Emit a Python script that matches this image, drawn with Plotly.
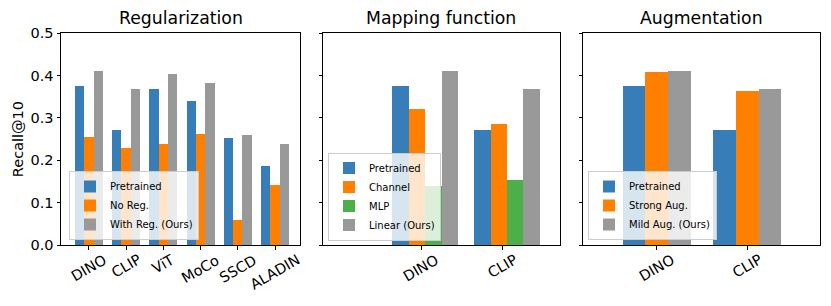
import plotly.graph_objects as go

# ---------------- data ----------------
reg_models = ["DINO", "CLIP", "ViT", "MoCo", "SSCD", "ALADIN"]
reg_pretrained = [0.376, 0.271, 0.367, 0.340, 0.251, 0.185]
reg_noreg = [0.254, 0.228, 0.237, 0.261, 0.059, 0.142]
reg_withreg = [0.411, 0.367, 0.404, 0.381, 0.260, 0.237]

map_models = ["DINO", "CLIP"]
map_pretrained = [0.376, 0.271]
map_channel = [0.320, 0.285]
map_mlp = [0.139, 0.153]
map_linear = [0.411, 0.367]

aug_models = ["DINO", "CLIP"]
aug_pretrained = [0.376, 0.271]
aug_strong = [0.408, 0.362]
aug_mild = [0.411, 0.367]

titles = ["Regularization", "Mapping function", "Augmentation"]
ylabel = "Recall@10"
yticks = [0.0, 0.1, 0.2, 0.3, 0.4, 0.5]

BLUE, ORANGE, GREEN, GRAY = "#377eb8", "#ff7f00", "#4daf4a", "#999999"
FONT = "DejaVu Sans"

W, H = 831, 306
# panel pixel geometry
px = [(61, 300), (323, 560), (583, 820)]
ytop, ybot = 33.3, 245

def fx(p):
    return p / W

def fy(p):
    return (H - p) / H

fig = go.Figure()

def add_group(models, series, offsets, width, axis_idx, legend_name):
    xa = "x" if axis_idx == 1 else f"x{axis_idx}"
    ya = "y" if axis_idx == 1 else f"y{axis_idx}"
    for (name, vals, color), off in zip(series, offsets):
        fig.add_trace(go.Bar(
            x=[i + off for i in range(len(models))], y=vals, width=width,
            name=name, marker=dict(color=color, line=dict(width=0)),
            xaxis=xa, yaxis=ya, legend=legend_name, hoverinfo="skip",
        ))

add_group(reg_models,
          [("Pretrained", reg_pretrained, BLUE), ("No Reg.", reg_noreg, ORANGE),
           ("With Reg. (Ours)", reg_withreg, GRAY)],
          [-0.25, 0.0, 0.25], 0.25, 1, "legend")
add_group(map_models,
          [("Pretrained", map_pretrained, BLUE), ("Channel", map_channel, ORANGE),
           ("MLP", map_mlp, GREEN), ("Linear (Ours)", map_linear, GRAY)],
          [-0.25, -0.05, 0.15, 0.35], 0.2, 2, "legend2")
add_group(aug_models,
          [("Pretrained", aug_pretrained, BLUE), ("Strong Aug.", aug_strong, ORANGE),
           ("Mild Aug. (Ours)", aug_mild, GRAY)],
          [-0.25, 0.0, 0.25], 0.25, 3, "legend3")

xranges = [[-0.75, 5.67], [-1.2, 1.7], [-0.81, 1.8]]
cats = [reg_models, map_models, aug_models]

axis_common = dict(showline=True, linecolor="black", linewidth=1, mirror=True,
                   ticks="outside", ticklen=3.5, tickwidth=1, tickcolor="black",
                   showgrid=False, zeroline=False, fixedrange=True, automargin=False)

layout = dict(width=W, height=H, margin=dict(l=0, r=0, t=0, b=0, pad=0, autoexpand=False),
              autosize=False,
              plot_bgcolor="white", paper_bgcolor="white",
              barmode="overlay", bargap=0,
              font=dict(family=FONT, color="black", size=14.5),
              showlegend=True)

for i in range(3):
    sx = "" if i == 0 else str(i + 1)
    layout[f"xaxis{sx}"] = dict(axis_common, domain=[fx(px[i][0]), fx(px[i][1])],
                                range=xranges[i], tickvals=list(range(len(cats[i]))),
                                ticktext=[""] * len(cats[i]),
                                anchor=f"y{sx}")
    layout[f"yaxis{sx}"] = dict(axis_common, domain=[fy(ybot), fy(ytop)], range=[0, 0.5],
                                tickvals=yticks,
                                ticktext=[f"{v:.1f}" for v in yticks] if i == 0 else [""] * len(yticks),
                                tickfont=dict(size=14.5),
                                anchor=f"x{sx}")

legend_common = dict(bgcolor="rgba(255,255,255,0.8)", bordercolor="#cccccc", borderwidth=1,
                     font=dict(size=10, family=FONT), xanchor="left", yanchor="bottom",
                     itemwidth=30, tracegroupgap=0)
layout["legend"] = dict(legend_common, x=fx(69), y=fy(240))
layout["legend2"] = dict(legend_common, x=fx(328), y=fy(240.5))
layout["legend3"] = dict(legend_common, x=fx(588), y=fy(240))

fig.update_layout(**layout)

annotations = []
for i in range(3):
    annotations.append(dict(text=titles[i], x=(fx(px[i][0]) + fx(px[i][1])) / 2, y=fy(18),
                            xref="paper", yref="paper", showarrow=False,
                            font=dict(size=17.3, family=FONT), xanchor="center", yanchor="middle"))
    sx = "" if i == 0 else str(i + 1)
    for j, c in enumerate(cats[i]):
        annotations.append(dict(text=c, x=j, y=fy(249), xref=f"x{sx}", yref="paper",
                                showarrow=False, textangle=-30, xanchor="center", yanchor="top",
                                font=dict(size=14.5, family=FONT)))
annotations.append(dict(text=ylabel, x=fx(18), y=(fy(ybot) + fy(ytop)) / 2, xref="paper", yref="paper",
                        showarrow=False, textangle=-90, xanchor="center", yanchor="middle",
                        font=dict(size=14.5, family=FONT)))
fig.update_layout(annotations=annotations)

fig.write_html("out.html", config={"displayModeBar": False},
               post_script="document.body.style.margin='0px';")
